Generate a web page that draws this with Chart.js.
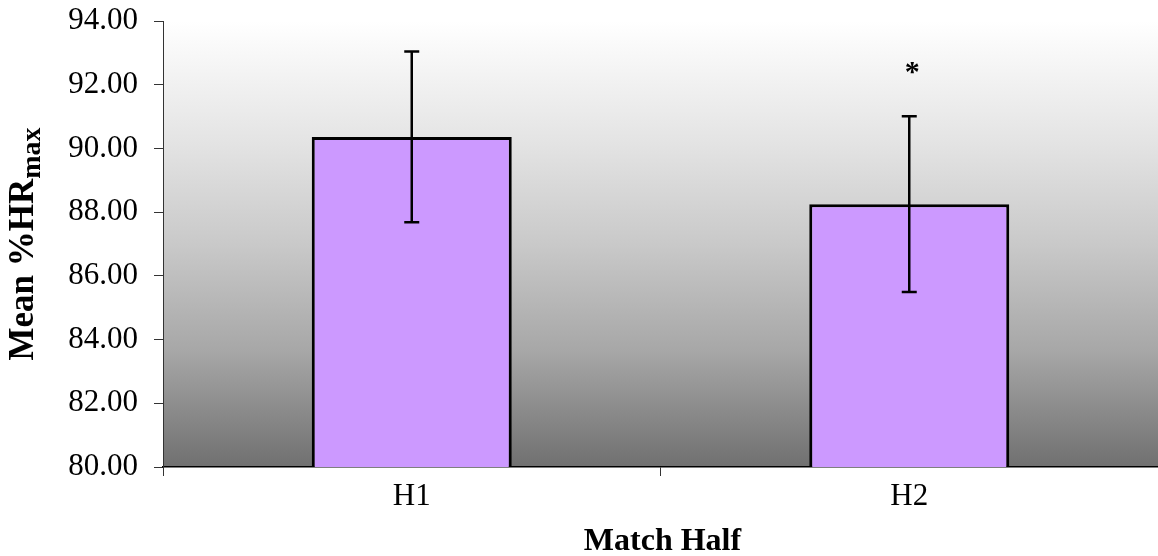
<!DOCTYPE html>
<html>
<head>
<meta charset="utf-8">
<script src="https://cdn.jsdelivr.net/npm/chart.js@4.4.1/dist/chart.umd.min.js"></script>
<style>
  html, body { margin: 0; padding: 0; background: #ffffff; }
  #wrap { width: 1158px; height: 556px; }
</style>
</head>
<body>
<div id="wrap"><canvas id="chart" width="1158" height="556"></canvas></div>
<script>
// Match halves and mean %HRmax with standard deviations
const halves = ['H1', 'H2'];
const meanHR = [90.36, 88.25];
const sdHR = [2.68, 2.76];
const marks = ['', '*'];
const yTicks = [80, 82, 84, 86, 88, 90, 92, 94];

const SERIF = '"Liberation Serif", "Times New Roman", serif';

// Grey vertical gradient behind the plot area
const plotBackground = {
  id: 'plotBackground',
  beforeDraw(chart) {
    const { ctx, chartArea: a } = chart;
    const g = ctx.createLinearGradient(0, a.top, 0, a.bottom);
    g.addColorStop(0, '#ffffff');
    g.addColorStop(0.27, '#e4e4e4');
    g.addColorStop(0.5, '#c9c9c9');
    g.addColorStop(0.74, '#a7a7a7');
    g.addColorStop(1, '#707070');
    ctx.save();
    ctx.fillStyle = g;
    ctx.fillRect(a.left, a.top, a.right - a.left, a.bottom - a.top);
    ctx.restore();
  }
};

// Error bars, significance marks and axis titles
const extras = {
  id: 'extras',
  afterDatasetsDraw(chart) {
    const { ctx } = chart;
    const x = chart.scales.x, y = chart.scales.y;
    ctx.save();
    ctx.strokeStyle = '#000000';
    ctx.lineWidth = 2.5;
    halves.forEach((h, i) => {
      const cx = x.getPixelForValue(i);
      const top = y.getPixelForValue(meanHR[i] + sdHR[i]);
      const bot = y.getPixelForValue(meanHR[i] - sdHR[i]);
      ctx.beginPath();
      ctx.moveTo(cx, top); ctx.lineTo(cx, bot);
      ctx.moveTo(cx - 7.5, top); ctx.lineTo(cx + 7.5, top);
      ctx.moveTo(cx - 7.5, bot); ctx.lineTo(cx + 7.5, bot);
      ctx.stroke();
      if (marks[i]) {
        ctx.fillStyle = '#000000';
        ctx.font = 'bold 30px ' + SERIF;
        ctx.textAlign = 'center';
        ctx.textBaseline = 'middle';
        ctx.fillText(marks[i], cx + 3, top - 43);
      }
    });
    ctx.restore();
  },
  afterDraw(chart) {
    const { ctx, chartArea: a } = chart;
    ctx.save();
    ctx.fillStyle = '#000000';
    // x-axis title
    ctx.font = 'bold 32px ' + SERIF;
    ctx.textAlign = 'center';
    ctx.textBaseline = 'alphabetic';
    ctx.fillText('Match Half', (a.left + a.right) / 2 + 2, 550);
    // y-axis title with subscript
    const main = 'Mean %HR', sub = 'max';
    const mainFont = 'bold 35px ' + SERIF, subFont = 'bold 28px ' + SERIF;
    ctx.font = mainFont;
    const wMain = ctx.measureText(main).width;
    ctx.font = subFont;
    const wSub = ctx.measureText(sub).width;
    const total = wMain + wSub;
    ctx.translate(33, (a.top + a.bottom) / 2);
    ctx.rotate(-Math.PI / 2);
    ctx.textAlign = 'left';
    ctx.font = mainFont;
    ctx.fillText(main, -total / 2, 0);
    ctx.font = subFont;
    ctx.fillText(sub, -total / 2 + wMain, 7);
    ctx.restore();
  }
};

new Chart(document.getElementById('chart'), {
  type: 'bar',
  data: {
    labels: halves,
    datasets: [{
      data: meanHR,
      backgroundColor: '#cc99ff',
      borderColor: '#000000',
      borderWidth: 3,
      borderSkipped: false,
      barPercentage: 0.402,
      categoryPercentage: 1.0
    }]
  },
  options: {
    responsive: false,
    animation: false,
    devicePixelRatio: 1,
    layout: { padding: { top: 21, right: 0, left: 0, bottom: 0 } },
    plugins: { legend: { display: false }, tooltip: { enabled: false } },
    scales: {
      x: {
        offset: true,
        grid: {
          offset: true,
          drawOnChartArea: false,
          drawTicks: true,
          tickLength: 9,
          color: '#333333',
          lineWidth: 1
        },
        border: { display: true, color: '#000000', width: 1.5 },
        ticks: {
          font: { family: SERIF, size: 31 },
          color: '#000000',
          padding: 2
        },
        afterFit(scale) {
          scale.height = 89;
          scale.paddingLeft = 0;
          scale.paddingRight = 0;
        }
      },
      y: {
        min: 80,
        max: 94,
        afterBuildTicks(scale) { scale.ticks = yTicks.map(v => ({ value: v })); },
        grid: {
          drawOnChartArea: false,
          drawTicks: true,
          tickLength: 9,
          color: '#333333',
          lineWidth: 1
        },
        border: { display: true, color: '#333333', width: 1 },
        ticks: {
          font: { family: SERIF, size: 31 },
          color: '#000000',
          padding: 16,
          callback: v => Number(v).toFixed(2)
        },
        afterFit(scale) {
          scale.width = 163;
          scale.paddingTop = 0;
          scale.paddingBottom = 0;
        }
      }
    }
  },
  plugins: [plotBackground, extras]
});
</script>
</body>
</html>
